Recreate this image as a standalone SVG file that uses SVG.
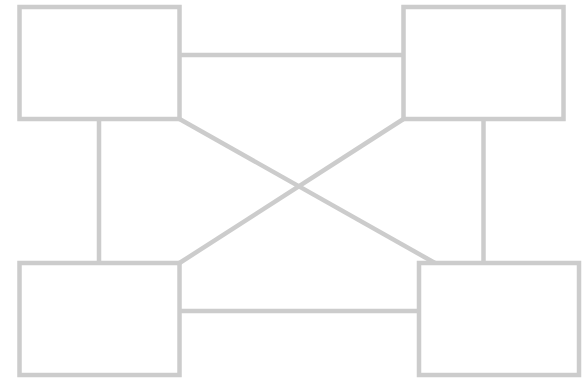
<svg xmlns="http://www.w3.org/2000/svg" width="582" height="378" viewBox="0 0 582 378">
<style>
.n{fill:#fff;stroke:#cccccc;stroke-width:4.5}
.c{stroke:#cccccc;stroke-width:4.5;fill:none}
</style>
<rect width="582" height="378" fill="#fff"/>
<g id="connectors">
<line class="c" x1="179.5" y1="55" x2="403.5" y2="55"/>
<line class="c" x1="179.5" y1="311" x2="419" y2="311"/>
<line class="c" x1="99" y1="119" x2="99" y2="263"/>
<line class="c" x1="483.5" y1="119" x2="483.5" y2="263"/>
<line class="c" x1="179.5" y1="119" x2="435" y2="263"/>
<line class="c" x1="403.5" y1="119" x2="179.5" y2="263"/>
</g>
<g id="node-tl"><rect class="n" x="19.5" y="7" width="160" height="112"/></g>
<g id="node-tr"><rect class="n" x="403.5" y="7" width="160" height="112"/></g>
<g id="node-bl"><rect class="n" x="19.5" y="263" width="160" height="112"/></g>
<g id="node-br"><rect class="n" x="419" y="263" width="160" height="112"/></g>
</svg>
